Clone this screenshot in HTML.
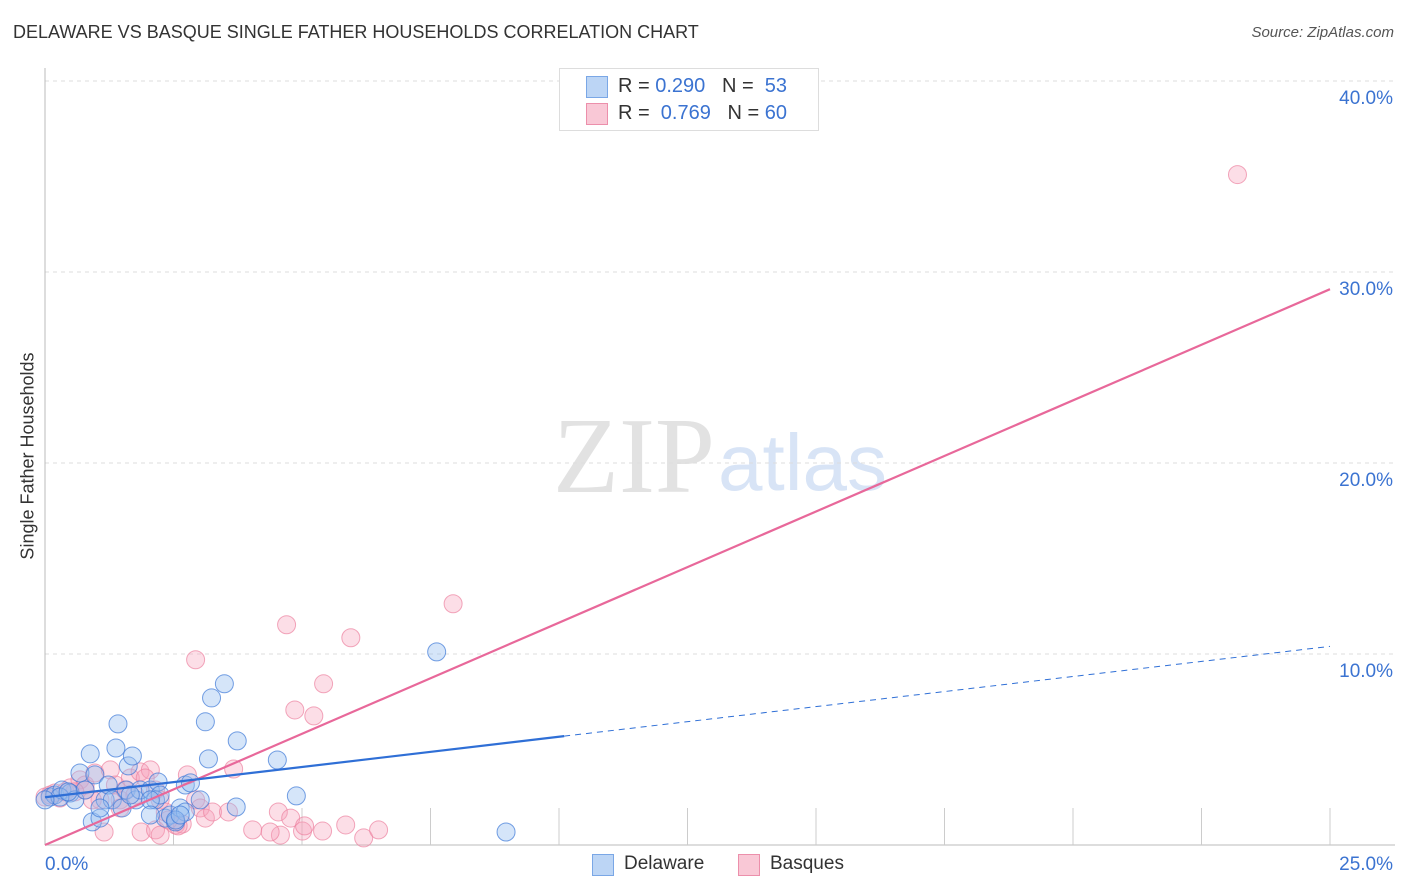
<!DOCTYPE html>
<html><head><meta charset="utf-8">
<style>
body{margin:0;background:#fff;font-family:"Liberation Sans",sans-serif;}
#wrap{position:relative;width:1406px;height:892px;overflow:hidden;}
.t{position:absolute;white-space:nowrap;}
</style></head>
<body>
<div id="wrap">
<div class="t" style="left:13px;top:22px;font-size:18px;color:#333;">DELAWARE VS BASQUE SINGLE FATHER HOUSEHOLDS CORRELATION CHART</div>
<div class="t" style="right:12px;top:24px;font-size:15px;color:#555;font-style:italic;">Source: ZipAtlas.com</div>
<div class="t" style="left:28px;top:456px;font-size:18px;color:#333;transform:translate(-50%,-50%) rotate(-90deg);">Single Father Households</div>
<svg id="plot" width="1406" height="892" style="position:absolute;left:0;top:0"></svg>
<div style="position:absolute;left:559px;top:68px;width:258px;height:61px;border:1px solid #ddd;background:#fff;font-size:20px;">
 <div style="position:absolute;left:26px;top:7px;width:20px;height:20px;background:#bcd5f5;border:1px solid #7aa7e6;"></div>
 <div class="t" style="left:58px;top:6px;color:#333;">R = <span style="color:#3b73d1">0.290</span>&nbsp;&nbsp;&nbsp;N = &nbsp;<span style="color:#3b73d1">53</span></div>
 <div style="position:absolute;left:26px;top:34px;width:20px;height:20px;background:#f9c8d6;border:1px solid #ec8fab;"></div>
 <div class="t" style="left:58px;top:33px;color:#333;">R = &nbsp;<span style="color:#3b73d1">0.769</span>&nbsp;&nbsp;&nbsp;N = <span style="color:#3b73d1">60</span></div>
</div>
<div style="position:absolute;left:592px;top:853px;">
 <div style="position:absolute;left:0;top:1px;width:20px;height:20px;background:#bcd5f5;border:1px solid #7aa7e6;"></div>
 <div class="t" style="left:32px;top:0;font-size:19px;color:#333;">Delaware</div></div>
<div style="position:absolute;left:738px;top:853px;">
 <div style="position:absolute;left:0;top:1px;width:20px;height:20px;background:#f9c8d6;border:1px solid #ec8fab;"></div>
 <div class="t" style="left:32px;top:0;font-size:19px;color:#333;">Basques</div></div>
</div>
<script>
const xTicks=[0,25];
const xTickLabels=["0.0%","25.0%"];
const yTicks=[10,20,30,40];
const yTickLabels=["10.0%","20.0%","30.0%","40.0%"];
const delX=[0.10,0.19,0.33,0.49,0.58,0.68,0.78,0.88,0.97,0.92,1.07,1.17,1.23,1.31,1.38,1.42,1.50,1.58,1.62,1.70,1.77,1.85,2.05,2.15,2.20,2.24,2.34,2.44,2.54,2.63,2.73,2.83,2.73,3.02,3.12,3.18,3.24,3.49,3.74,3.72,4.52,4.89,7.62,8.97,0.29,0.45,0.0,1.66,2.05,2.54,2.05,1.07,2.63];
const delY=[2.51,2.62,2.88,2.72,2.36,3.77,2.88,4.77,3.67,1.21,1.41,2.36,3.14,2.36,5.08,6.34,1.94,2.88,4.14,4.66,2.36,2.88,2.88,2.36,3.30,2.62,1.41,1.57,1.21,1.94,3.14,3.25,1.73,2.36,6.45,4.51,7.70,8.44,5.45,1.99,4.45,2.57,10.11,0.68,2.51,2.78,2.36,2.62,2.36,1.31,1.57,1.94,1.57];
const basX=[23.2,7.94,4.70,5.95,2.93,5.42,4.86,5.23,3.67,2.77,0,0.10,0.19,0.39,0.49,0.68,0.78,0.97,1.07,1.27,1.37,1.46,1.56,1.66,1.85,2.05,1.95,2.15,2.24,2.34,2.54,2.67,2.93,3.02,3.12,3.26,3.57,4.04,4.54,4.78,5.01,5.05,5.40,5.85,6.20,6.49,4.58,1.87,2.15,2.24,2.59,1.15,0.78,0.58,0.29,0.92,1.46,1.75,2.40,4.38];
const basY=[35.1,12.63,11.53,10.85,9.70,8.44,7.07,6.76,3.98,3.67,2.51,2.62,2.72,2.78,2.99,3.41,3.14,3.77,2.36,3.93,3.14,2.36,2.88,3.51,3.83,3.93,3.51,2.88,2.36,1.73,1.05,1.10,2.36,1.94,1.41,1.73,1.73,0.79,1.73,1.41,0.73,1.00,0.73,1.05,0.37,0.79,0.52,0.68,0.79,0.52,1.00,0.68,2.88,2.78,2.46,2.36,1.94,2.62,1.31,0.68];
const delTrend=[2.5,5.7,10.4];
const delSolidEnd=10.1;
const basTrend=[0,29.1];

const X=v=>45+v/25*1285;
const Y=v=>845-v*19.1;
const svg=document.getElementById('plot');
const NS='http://www.w3.org/2000/svg';
function mk(tag,a){const e=document.createElementNS(NS,tag);for(const k in a)e.setAttribute(k,a[k]);svg.appendChild(e);return e;}
let w=mk('text',{x:553,y:492,'font-size':108,'font-family':'Liberation Serif,serif',fill:'#e2e2e2'});w.textContent='ZIP';


w=mk('text',{x:718,y:490,'font-size':80,'font-family':'Liberation Sans,sans-serif',fill:'#d8e4f6'});w.textContent='atlas';


yTicks.forEach((t,i)=>{
 let g=mk('line',{x1:45,x2:1395,y1:Y(t),y2:Y(t),stroke:'#ddd','stroke-dasharray':'4,4'});
 
 
 let l=mk('text',{x:1393,y:Y(t)+23,'text-anchor':'end','font-size':19,fill:'#3b73d1','font-family':'Liberation Sans,sans-serif'});
 l.textContent=yTickLabels[i];
 
 
});
let ya=mk('line',{x1:45,x2:45,y1:68,y2:845,stroke:'#bbb'});


let xa=mk('line',{x1:45,x2:1395,y1:845,y2:845,stroke:'#bbb'});


for(let i=1;i<=10;i++){let tx=X(i*2.5);mk('line',{x1:tx,x2:tx,y1:808,y2:845,stroke:'#ccc'});}
xTicks.forEach((t,i)=>{
 let l=mk('text',{x:i==0?45:1393,y:870,'text-anchor':i==0?'start':'end','font-size':19,fill:'#3b73d1','font-family':'Liberation Sans,sans-serif'});
 l.textContent=xTickLabels[i];
 
 
});
basX.forEach((x,i)=>{
 const c=mk('circle',{cx:X(x),cy:Y(basY[i]),r:9,fill:'rgba(245,160,185,0.35)',stroke:'rgba(236,130,160,0.7)','stroke-width':1});
 
 
});
delX.forEach((x,i)=>{
 const c=mk('circle',{cx:X(x),cy:Y(delY[i]),r:9,fill:'rgba(150,190,240,0.4)',stroke:'rgba(60,120,215,0.7)','stroke-width':1});
 
 
});
let p=mk('line',{x1:X(0),y1:Y(basTrend[0]),x2:X(25),y2:Y(basTrend[1]),stroke:'#e8689a','stroke-width':2.2});


let b=mk('line',{x1:X(0),y1:Y(delTrend[0]),x2:X(delSolidEnd),y2:Y(delTrend[1]),stroke:'#2f6fd6','stroke-width':2.2});


let bd=mk('line',{x1:X(delSolidEnd),y1:Y(delTrend[1]),x2:X(25),y2:Y(delTrend[2]),stroke:'#2f6fd6','stroke-width':1,'stroke-dasharray':'6,5'});


</script>
</body></html>
